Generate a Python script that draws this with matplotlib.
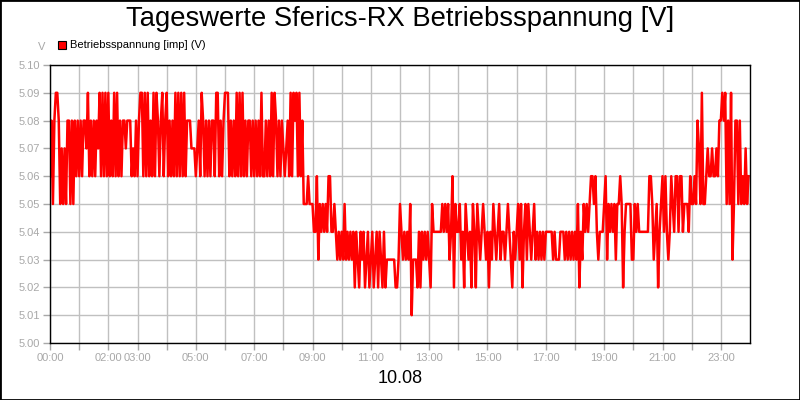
import numpy as np
import matplotlib
matplotlib.use("Agg")
import matplotlib.pyplot as plt
from matplotlib.patches import Rectangle

plt.rcParams['font.family'] = ['Liberation Sans', 'DejaVu Sans']

# Betriebsspannung, 3-Minuten-Werte (20 pro Stunde)
volt = [
    5.06, 5.08, 5.05, 5.08, 5.09, 5.09, 5.08, 5.05, 5.07, 5.05, 5.07, 5.05, 5.08, 5.08, 5.05, 5.08, 5.05, 5.08, 5.06, 5.08,  # 00
    5.06, 5.08, 5.06, 5.08, 5.08, 5.07, 5.09, 5.06, 5.08, 5.06, 5.08, 5.06, 5.08, 5.07, 5.09, 5.06, 5.09, 5.06, 5.09, 5.06,  # 01
    5.09, 5.06, 5.08, 5.06, 5.09, 5.06, 5.09, 5.06, 5.08, 5.06, 5.08, 5.08, 5.07, 5.08, 5.08, 5.08, 5.06, 5.07, 5.06, 5.08,  # 02
    5.06, 5.08, 5.09, 5.09, 5.06, 5.09, 5.06, 5.09, 5.06, 5.08, 5.06, 5.09, 5.06, 5.09, 5.08, 5.06, 5.08, 5.09, 5.06, 5.08,  # 03
    5.09, 5.06, 5.08, 5.06, 5.08, 5.06, 5.09, 5.06, 5.09, 5.06, 5.09, 5.06, 5.09, 5.06, 5.08, 5.08, 5.08, 5.07, 5.07, 5.07,  # 04
    5.06, 5.07, 5.08, 5.06, 5.09, 5.08, 5.06, 5.08, 5.06, 5.08, 5.06, 5.08, 5.08, 5.06, 5.09, 5.09, 5.06, 5.08, 5.06, 5.08,  # 05
    5.09, 5.09, 5.09, 5.06, 5.08, 5.06, 5.08, 5.06, 5.09, 5.06, 5.09, 5.06, 5.09, 5.06, 5.08, 5.06, 5.08, 5.08, 5.06, 5.08,  # 06
    5.06, 5.08, 5.06, 5.08, 5.06, 5.09, 5.06, 5.06, 5.08, 5.06, 5.08, 5.06, 5.09, 5.06, 5.09, 5.08, 5.06, 5.08, 5.06, 5.08,  # 07
    5.07, 5.06, 5.07, 5.08, 5.06, 5.09, 5.06, 5.09, 5.08, 5.09, 5.06, 5.09, 5.06, 5.08, 5.05, 5.05, 5.05, 5.06, 5.05, 5.05,  # 08
    5.05, 5.04, 5.04, 5.06, 5.03, 5.05, 5.04, 5.05, 5.04, 5.05, 5.04, 5.06, 5.06, 5.04, 5.04, 5.05, 5.04, 5.03, 5.04, 5.03,  # 09
    5.04, 5.03, 5.05, 5.03, 5.04, 5.03, 5.04, 5.03, 5.04, 5.02, 5.04, 5.03, 5.02, 5.04, 5.03, 5.04, 5.02, 5.03, 5.04, 5.02,  # 10
    5.03, 5.04, 5.02, 5.03, 5.04, 5.02, 5.04, 5.03, 5.02, 5.04, 5.02, 5.03, 5.03, 5.03, 5.03, 5.03, 5.03, 5.02, 5.02, 5.03,  # 11
    5.05, 5.04, 5.03, 5.04, 5.03, 5.04, 5.03, 5.05, 5.01, 5.03, 5.03, 5.03, 5.02, 5.04, 5.02, 5.04, 5.03, 5.04, 5.03, 5.04,  # 12
    5.03, 5.02, 5.05, 5.04, 5.04, 5.04, 5.04, 5.04, 5.04, 5.05, 5.04, 5.05, 5.04, 5.05, 5.03, 5.04, 5.06, 5.02, 5.05, 5.04,  # 13
    5.04, 5.05, 5.03, 5.04, 5.02, 5.05, 5.04, 5.03, 5.04, 5.02, 5.05, 5.04, 5.02, 5.05, 5.04, 5.03, 5.04, 5.05, 5.04, 5.03,  # 14
    5.04, 5.02, 5.04, 5.03, 5.05, 5.04, 5.03, 5.04, 5.05, 5.03, 5.04, 5.04, 5.03, 5.04, 5.05, 5.04, 5.03, 5.02, 5.04, 5.03,  # 15
    5.04, 5.05, 5.03, 5.05, 5.02, 5.04, 5.05, 5.03, 5.05, 5.04, 5.03, 5.04, 5.05, 5.03, 5.04, 5.03, 5.04, 5.03, 5.04, 5.03,  # 16
    5.04, 5.04, 5.04, 5.04, 5.04, 5.03, 5.04, 5.03, 5.03, 5.03, 5.04, 5.04, 5.04, 5.03, 5.04, 5.03, 5.04, 5.03, 5.04, 5.03,  # 17
    5.04, 5.03, 5.05, 5.02, 5.04, 5.03, 5.05, 5.04, 5.05, 5.04, 5.05, 5.06, 5.06, 5.05, 5.06, 5.04, 5.03, 5.04, 5.04, 5.04,  # 18
    5.05, 5.06, 5.03, 5.05, 5.04, 5.05, 5.04, 5.05, 5.03, 5.05, 5.05, 5.06, 5.05, 5.02, 5.04, 5.05, 5.05, 5.05, 5.05, 5.03,  # 19
    5.03, 5.05, 5.04, 5.05, 5.04, 5.04, 5.04, 5.04, 5.04, 5.04, 5.04, 5.06, 5.06, 5.05, 5.03, 5.04, 5.05, 5.02, 5.04, 5.05,  # 20
    5.06, 5.04, 5.06, 5.04, 5.03, 5.04, 5.06, 5.05, 5.04, 5.06, 5.06, 5.04, 5.06, 5.06, 5.04, 5.05, 5.05, 5.05, 5.04, 5.06,  # 21
    5.05, 5.05, 5.06, 5.05, 5.08, 5.07, 5.05, 5.09, 5.05, 5.05, 5.06, 5.07, 5.06, 5.06, 5.07, 5.06, 5.06, 5.07, 5.06, 5.08,  # 22
    5.08, 5.09, 5.08, 5.09, 5.05, 5.08, 5.05, 5.09, 5.03, 5.05, 5.08, 5.08, 5.05, 5.08, 5.05, 5.06, 5.05, 5.07, 5.05, 5.06,  # 23
]
step_min = 3

tick_hours = list(range(24))
shown_hours = [0, 2, 3, 5, 7, 9, 11, 13, 15, 17, 19, 21, 23]
y_ticks = [5.00, 5.01, 5.02, 5.03, 5.04, 5.05, 5.06, 5.07, 5.08, 5.09, 5.10]

t = np.arange(len(volt)) * step_min / 60.0

fig = plt.figure(figsize=(8, 4), dpi=100)
fig.patch.set_facecolor('white')
fig.add_artist(Rectangle((0, 0), 1, 1, transform=fig.transFigure, fill=False,
                         edgecolor='black', linewidth=2))

ax = fig.add_axes([50 / 800, 57 / 400, 700 / 800, 278 / 400])
ax.plot(t, volt, color='#ff0000', linewidth=1.8)

ax.set_xlim(0, 24)
ax.set_ylim(5.00, 5.10)

grey = '#a8a8a8'
ax.set_xticks(tick_hours)
ax.set_xticklabels([f"{h:02d}:00" if h in shown_hours else "" for h in tick_hours])
ax.set_yticks(y_ticks)
ax.set_yticklabels([f"{v:.2f}" for v in y_ticks])
ax.tick_params(axis='both', colors=grey, labelcolor=grey, labelsize=8,
               length=5, width=1, pad=2)
ax.grid(True, color='#c0c0c0', linewidth=1)
ax.set_axisbelow(True)
for s in ax.spines.values():
    s.set_color('black')
    s.set_linewidth(1)

fig.text(0.5, 0.953, "Tageswerte Sferics-RX Betriebsspannung [V]",
         ha='center', va='center', fontsize=19.7, color='black')
fig.text(0.5, 0.053, "10.08", ha='center', va='center', fontsize=13, color='black')
fig.text(42 / 800, 1 - 47 / 400, "V", ha='center', va='center', fontsize=8, color=grey)

fig.add_artist(Rectangle((58 / 800, 1 - 49 / 400), 8 / 800, 8 / 400,
                         transform=fig.transFigure, facecolor='#ff0000',
                         edgecolor='black', linewidth=0.8))
fig.text(70 / 800, 1 - 45 / 400, "Betriebsspannung [imp] (V)",
         ha='left', va='center', fontsize=8, color='black')

fig.savefig("out.png", dpi=100)
